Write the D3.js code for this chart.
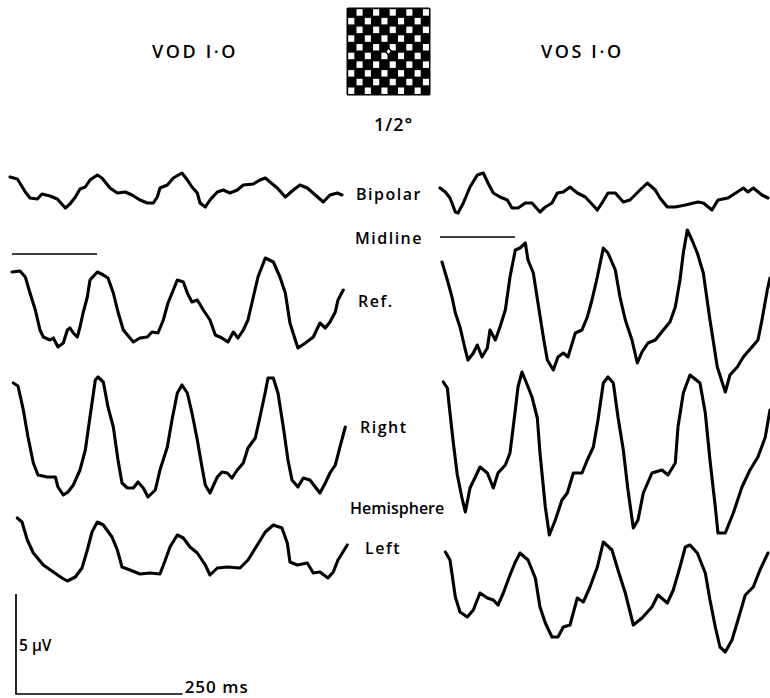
<!DOCTYPE html>
<html>
<head>
<meta charset="utf-8">
<script src="https://cdn.jsdelivr.net/npm/d3@7/dist/d3.min.js"></script>
<style>
  html, body { margin: 0; padding: 0; background: #fff; }
  svg { display: block; }
  text { font-family: "Open Sans", "DejaVu Sans", sans-serif; fill: #000; font-weight: 600; }
</style>
</head>
<body>
<svg id="chart" width="770" height="698"></svg>
<script>
// ---- Data: [time (ms), amplitude (µV)] ----
const leftBipolar = [[0,0.65],[11,0.55],[23,-0.1],[30,-0.4],[41,-0.45],[48,-0.2],[60,-0.3],[71,-0.45],[83,-0.9],[90,-0.7],[98,-0.35],[105,0.05],[113,0.15],[120,0.5],[131,0.75],[138,0.6],[150,0.1],[161,-0.15],[173,-0.1],[183,-0.25],[195,-0.5],[206,-0.65],[215,-0.65],[221,-0.35],[225,0.1],[236,0.25],[245,0.6],[258,0.85],[266,0.5],[273,0.15],[281,-0.15],[285,-0.65],[293,-0.85],[300,-0.5],[311,-0.1],[320,0],[330,-0.15],[341,0],[350,0.25],[365,0.3],[375,0.5],[383,0.6],[390,0.4],[401,0.1],[413,-0.35],[425,0],[435,0.25],[446,0.1],[458,-0.25],[470,-0.6],[480,-0.25],[491,-0.15],[498,-0.25]];
const leftRef = [[3,1.9],[15,1.95],[23,1.65],[30,0.85],[38,0],[45,-1],[50,-1.35],[60,-1.5],[65,-1.4],[72,-1.85],[80,-1.65],[86,-1],[90,-0.9],[95,-1.15],[101,-1.35],[105,-0.85],[110,-0.1],[116,0.65],[120,1.5],[131,1.9],[140,1.75],[147,1.6],[155,0.85],[162,-0.1],[170,-1],[180,-1.4],[185,-1.6],[195,-1.4],[206,-1.35],[213,-1.1],[222,-1.15],[230,-0.5],[237,0.35],[245,1],[251,1.5],[260,1.4],[266,0.85],[273,0.4],[281,0.5],[290,0],[300,-0.5],[308,-1.25],[318,-1.4],[327,-1.6],[335,-1.1],[342,-1.4],[350,-1],[357,-0.5],[365,0.65],[372,1.65],[383,2.6],[395,2.4],[405,1.65],[413,0.85],[420,-0.65],[428,-1.5],[432,-1.9],[443,-1.65],[455,-1.35],[465,-0.65],[473,-0.9],[480,-0.6],[488,-0.1],[492,0.5],[500,1]];
const leftRight = [[5,2.85],[12,2.7],[20,1.5],[27,0.15],[35,-1.15],[42,-1.75],[56,-1.85],[68,-1.85],[72,-2.35],[80,-2.75],[87,-2.6],[95,-2.25],[105,-1.5],[113,-0.5],[120,1.15],[128,3],[132,3.15],[140,2.9],[147,1.65],[155,0.65],[162,-1],[168,-2.15],[176,-2.4],[185,-2.4],[192,-2.1],[200,-2.4],[207,-2.85],[218,-2.5],[225,-1.5],[236,-0.35],[243,1],[251,2.35],[258,2.75],[266,2.35],[273,1.35],[281,0],[288,-1.35],[293,-2.25],[300,-2.65],[311,-1.85],[318,-1.6],[326,-1.65],[333,-1.9],[341,-1.5],[350,-1.15],[357,-0.4],[368,0.1],[375,1.15],[383,2.4],[387,3.1],[395,3.1],[402,2.35],[410,0.65],[417,-1],[423,-2],[432,-2.35],[440,-1.9],[450,-2],[458,-2.35],[465,-2.65],[473,-2.15],[480,-1.65],[488,-1.25],[495,-0.35],[503,0.65]];
const leftLeft = [[11,1.6],[18,1.4],[26,0.5],[35,-0.15],[50,-0.75],[65,-1.1],[78,-1.4],[86,-1.55],[98,-1.35],[108,-0.9],[116,0],[123,0.9],[131,1.4],[140,1.25],[153,0.65],[161,0],[168,-0.85],[180,-1],[195,-1.2],[210,-1.15],[225,-1.2],[233,-0.5],[240,0.15],[251,0.75],[260,0.6],[270,0.15],[281,-0.15],[293,-0.75],[300,-1.25],[311,-0.9],[326,-0.85],[345,-0.9],[357,-0.5],[371,0.25],[383,0.9],[395,1.25],[408,1.1],[416,0.35],[420,-0.6],[431,-0.75],[446,-0.65],[455,-1.15],[465,-1.1],[477,-1.4],[485,-1.1],[492,-0.5],[506,0.25]];
const rightBipolar = [[6,0.35],[14,0.15],[21,-0.15],[29,-0.85],[33,-0.9],[41,-0.4],[51,0.4],[62,1],[71,1.1],[78,0.6],[86,0.1],[96,-0.1],[107,-0.25],[114,-0.65],[123,-0.65],[134,-0.4],[144,-0.4],[156,-0.85],[164,-0.6],[174,-0.4],[182,0.1],[191,0.15],[201,0.4],[212,0.1],[224,-0.1],[231,-0.35],[242,-0.75],[249,-0.4],[258,0.1],[269,0.1],[281,-0.35],[291,-0.25],[306,0.25],[317,0.6],[329,0.25],[336,-0.15],[347,-0.6],[359,-0.6],[374,-0.5],[393,-0.35],[401,-0.4],[414,-0.75],[423,-0.25],[438,-0.15],[452,0.15],[461,0.35],[468,0.15],[476,0.35],[489,0],[498,-0.15]];
const rightRef = [[9,2.4],[17,1.5],[24,0.65],[29,-0.15],[36,-0.85],[44,-2],[48,-2.5],[56,-2.15],[62,-1.75],[69,-2.35],[77,-1.9],[81,-1],[89,-1.5],[96,-0.85],[104,0],[111,1.65],[119,3],[126,3.1],[134,3.35],[138,2.5],[146,1.85],[153,0.35],[161,-1.35],[167,-2.5],[176,-3],[183,-2.35],[191,-2.15],[198,-2.35],[209,-1.15],[219,-1],[227,-0.35],[234,0.5],[242,1.65],[251,3.1],[258,2.85],[269,2],[276,0.65],[284,-0.5],[294,-1.5],[302,-2.65],[309,-2.1],[318,-1.65],[329,-1.5],[341,-1],[351,-0.6],[359,0.15],[366,1.5],[371,2.85],[377,4],[384,3.5],[392,2.85],[401,1.85],[411,-0.5],[422,-2.85],[434,-4.1],[441,-3.25],[452,-2.85],[461,-2.35],[474,-1.85],[483,-1.5],[489,-0.5],[497,1],[501,1.6]];
const rightRight = [[11,3.65],[17,3.35],[21,2.1],[26,0.6],[32,-1],[39,-2.15],[44,-2.85],[51,-1.65],[59,-1.1],[66,-0.6],[77,-0.9],[86,-1.65],[93,-0.9],[104,-0.5],[111,0.1],[119,2.25],[123,3.4],[129,4.15],[137,3.5],[144,2.9],[152,1.85],[156,0.1],[164,-2.6],[170,-4],[179,-3.25],[189,-2.25],[197,-1.9],[206,-0.9],[219,-0.9],[227,-0.25],[236,0.4],[243,1.75],[251,3.6],[258,3.9],[266,3.6],[273,1.9],[281,0.25],[288,-1.75],[296,-3.65],[303,-3.25],[311,-1.9],[324,-0.9],[339,-0.75],[348,-1],[359,-0.4],[363,1.4],[371,3.1],[381,4],[396,3.6],[404,2.1],[411,-0.25],[419,-2.6],[423,-3.9],[434,-3.9],[446,-2.9],[459,-1.6],[471,-0.75],[483,-0.1],[494,0.9],[501,2.25]];
const rightLeft = [[14,2.4],[21,2],[29,0.15],[36,-0.6],[47,-0.85],[56,-0.5],[66,0.35],[77,0.1],[86,0],[93,-0.25],[101,0.35],[111,1.25],[119,1.9],[126,2.35],[138,2],[149,1.1],[156,-0.35],[164,-1.15],[174,-1.85],[183,-1.85],[191,-1.35],[201,-1.25],[212,0.1],[221,-0.1],[231,0.65],[242,1.65],[251,2.9],[264,2.5],[273,1.5],[284,0.35],[296,-1.25],[309,-0.9],[324,-0.35],[333,0.25],[347,-0.15],[356,0.5],[366,1.65],[374,2.65],[381,2.75],[392,2.35],[404,1.35],[411,0],[419,-1.35],[426,-2.35],[434,-2.6],[444,-2],[453,-1],[464,0.25],[476,0.65],[486,1.5],[498,2.35]];

const titles = ["VOD I·O", "VOS I·O"];
const stimulusLabel = "1/2°";
const rowLabels = ["Bipolar", "Midline", "Ref.", "Right", "Hemisphere", "Left"];
const scaleTime = 250;   // ms
const scaleVolt = 5;     // µV
const scaleLabels = ["5 μV", "250 ms"];

// ---- Layout ----
const svg = d3.select("#chart");
const x = d3.scaleLinear().domain([0, 500]).range([0, 333.3]);
const y = d3.scaleLinear().domain([-5, 5]).range([100, -100]);

const panels = [
  { x0: 10,  traces: [[leftBipolar, 190], [leftRef, 310], [leftRight, 440], [leftLeft, 550]] },
  { x0: 436, traces: [[rightBipolar, 195], [rightRef, 310], [rightRight, 455], [rightLeft, 600]] }
];

const line = d3.line().x(d => x(d[0])).y(d => y(d[1])).curve(d3.curveLinear);

panels.forEach(p => {
  p.traces.forEach(([data, base]) => {
    svg.append("path")
      .attr("transform", `translate(${p.x0},${base})`)
      .attr("d", line(data))
      .attr("fill", "none")
      .attr("stroke", "#000")
      .attr("stroke-width", 3.1)
      .attr("stroke-linejoin", "round")
      .attr("stroke-linecap", "round");
  });
});

// Midline reference bars
svg.append("line").attr("x1", 12).attr("x2", 97).attr("y1", 254).attr("y2", 254)
  .attr("stroke", "#000").attr("stroke-width", 1.7);
svg.append("line").attr("x1", 440).attr("x2", 515).attr("y1", 237).attr("y2", 237)
  .attr("stroke", "#000").attr("stroke-width", 1.7);

// Titles
svg.append("text").attr("x", 152).attr("y", 58).attr("font-size", 18)
  .attr("letter-spacing", 2.6).text(titles[0]);
svg.append("text").attr("x", 541).attr("y", 58).attr("font-size", 18)
  .attr("letter-spacing", 2.6).text(titles[1]);
svg.append("text").attr("x", 374).attr("y", 131).attr("font-size", 18)
  .attr("letter-spacing", 1).text(stimulusLabel);

// Checkerboard stimulus
const cb = svg.append("g").attr("transform", "translate(347,8)");
const n = 10, cw = 8.3, ch = 8.7;
cb.append("rect").attr("x", -0.5).attr("y", -0.5).attr("width", n * cw + 1).attr("height", n * ch + 1)
  .attr("fill", "#000").attr("rx", 1.5);
const cells = [];
d3.range(n).forEach(r => d3.range(n).forEach(c => { if ((r + c) % 2 === 1) cells.push([r, c]); }));
cb.selectAll("rect.w").data(cells).join("rect").attr("class", "w")
  .attr("x", d => d[1] * cw + 1.2).attr("y", d => d[0] * ch + 1.2)
  .attr("width", cw - 2.2).attr("height", ch - 2.2).attr("fill", "#fff");
cb.append("path").attr("d", `M${5*cw-3},${5*ch} L${5*cw},${5*ch-3.5} L${5*cw+3},${5*ch} L${5*cw},${5*ch+3.5}Z`)
  .attr("fill", "#fff").attr("stroke", "#000").attr("stroke-width", 1.4);

// Row labels
const labelPos = [[356, 200, 1.5], [355, 244, 1.5], [358, 307, 1.5], [360, 433, 1.5], [350, 514, 0], [365, 554, 1.5]];
rowLabels.forEach((t, i) => {
  svg.append("text").attr("x", labelPos[i][0]).attr("y", labelPos[i][1])
    .attr("font-size", 16).attr("letter-spacing", labelPos[i][2]).text(t);
});

// Scale bar
const sx = 16, sy = 694;
svg.append("path")
  .attr("d", `M${sx},${sy - (y(0) - y(scaleVolt))} V${sy} H${sx + x(scaleTime)}`)
  .attr("fill", "none").attr("stroke", "#000").attr("stroke-width", 1.7);
svg.append("text").attr("x", 19).attr("y", 651).attr("font-size", 15.5).text(scaleLabels[0]);
svg.append("text").attr("x", sx + x(scaleTime) + 2).attr("y", 693).attr("font-size", 17)
  .attr("letter-spacing", 1).text(scaleLabels[1]);
</script>
</body>
</html>
